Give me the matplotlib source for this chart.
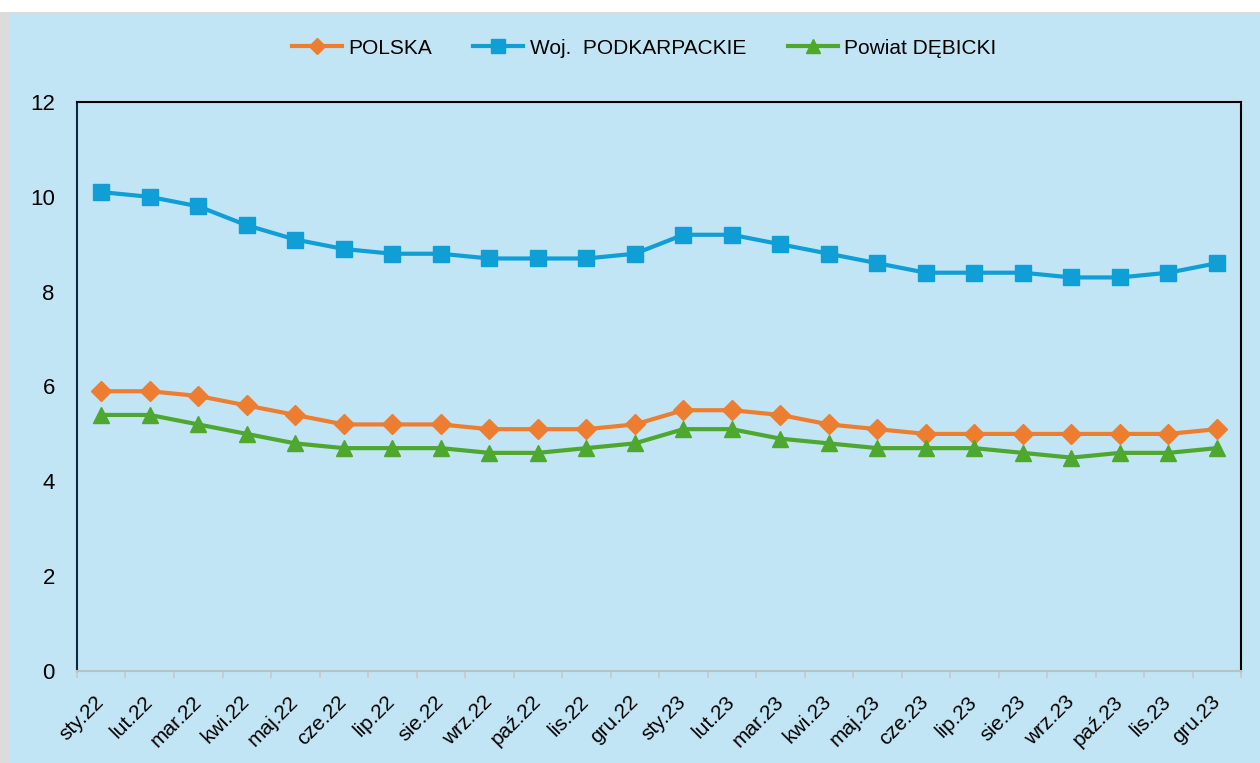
import numpy as np
import matplotlib.pyplot as plt
from matplotlib.patches import Rectangle

months = ["sty.22", "lut.22", "mar.22", "kwi.22", "maj.22", "cze.22", "lip.22", "sie.22",
          "wrz.22", "paź.22", "lis.22", "gru.22", "sty.23", "lut.23", "mar.23", "kwi.23",
          "maj.23", "cze.23", "lip.23", "sie.23", "wrz.23", "paź.23", "lis.23", "gru.23"]
polska = [5.9, 5.9, 5.8, 5.6, 5.4, 5.2, 5.2, 5.2, 5.1, 5.1, 5.1, 5.2,
          5.5, 5.5, 5.4, 5.2, 5.1, 5.0, 5.0, 5.0, 5.0, 5.0, 5.0, 5.1]
podkarpackie = [10.1, 10.0, 9.8, 9.4, 9.1, 8.9, 8.8, 8.8, 8.7, 8.7, 8.7, 8.8,
                9.2, 9.2, 9.0, 8.8, 8.6, 8.4, 8.4, 8.4, 8.3, 8.3, 8.4, 8.6]
debicki = [5.4, 5.4, 5.2, 5.0, 4.8, 4.7, 4.7, 4.7, 4.6, 4.6, 4.7, 4.8,
           5.1, 5.1, 4.9, 4.8, 4.7, 4.7, 4.7, 4.6, 4.5, 4.6, 4.6, 4.7]
yticks = [0, 2, 4, 6, 8, 10, 12]

bg = '#C1E5F5'
plt.rcParams['font.family'] = ['Liberation Sans', 'DejaVu Sans']

fig = plt.figure(figsize=(12.6, 7.63), dpi=100, facecolor='white')
# panel background with a thin grey edge on the left
fig.patches.append(Rectangle((0.0, 0.0), 1.0, 0.984, transform=fig.transFigure,
                             facecolor='#DCDCDC', edgecolor='none', zorder=-2))
fig.patches.append(Rectangle((0.007, 0.0), 1.0, 0.981, transform=fig.transFigure,
                             facecolor=bg, edgecolor='none', zorder=-1))

ax = fig.add_axes([0.0611, 0.1206, 0.9239, 0.7457])
ax.set_facecolor(bg)
x = np.arange(len(months))

ax.plot(x, polska, color='#ED7D31', lw=3, marker='D', ms=10, label='POLSKA')
ax.plot(x, podkarpackie, color='#0F9ED5', lw=3, marker='s', ms=12, label='Woj.  PODKARPACKIE')
ax.plot(x, debicki, color='#4EA72E', lw=3, marker='^', ms=12, label='Powiat DĘBICKI')

ax.set_xlim(-0.5, len(months) - 0.5)
ax.set_ylim(0, 12)
ax.set_yticks(yticks)
ax.set_yticklabels([str(v) for v in yticks], fontsize=16)
ax.tick_params(axis='y', length=0, pad=16)

ax.set_xticks(x)
ax.set_xticklabels(months, rotation=45, ha='right', va='center', rotation_mode='anchor',
                   fontsize=15)
ax.tick_params(axis='x', which='major', length=0, pad=20)
ax.set_xticks(np.arange(len(months) + 1) - 0.5, minor=True)
ax.tick_params(axis='x', which='minor', length=5, color='#C8C8C8', width=1.2)

for side in ['top', 'right']:
    ax.spines[side].set_color('black')
    ax.spines[side].set_linewidth(1.5)
ax.spines['left'].set_color('#0E2841')
ax.spines['left'].set_linewidth(1.5)
ax.spines['bottom'].set_color('#BFBFBF')
ax.spines['bottom'].set_linewidth(1.5)

leg = fig.legend(loc='center', bbox_to_anchor=(0.511, 0.937), ncol=3, frameon=False,
                 fontsize=15, handlelength=2.4, columnspacing=2.0, handletextpad=0.3,
                 markerscale=0.8)

fig.savefig('out.png', dpi=100, facecolor=fig.get_facecolor())
